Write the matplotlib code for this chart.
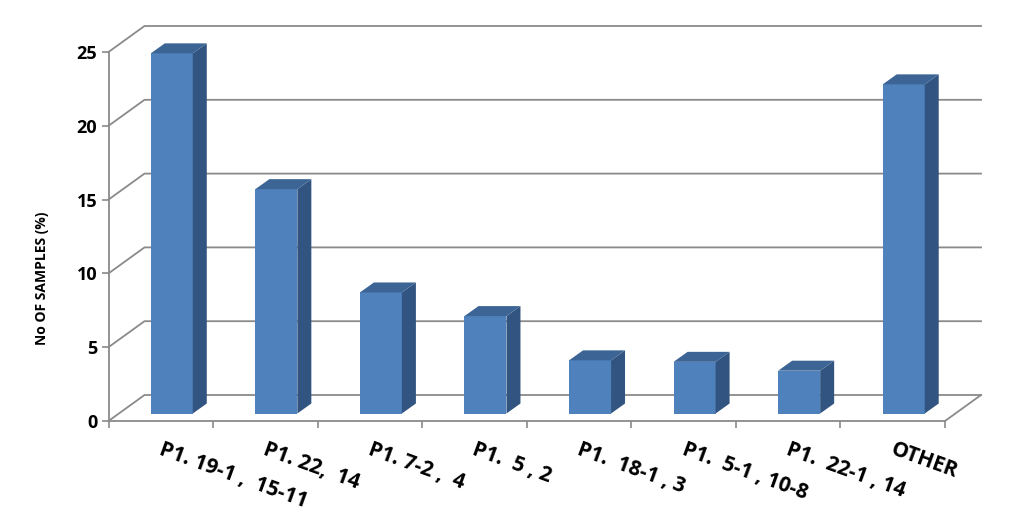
import numpy as np
import matplotlib
matplotlib.use('Agg')
import matplotlib.pyplot as plt
from matplotlib.ticker import FixedLocator, NullFormatter

categories = ['P1. 19-1 ,  15-11', 'P1. 22,  14', 'P1. 7-2 ,  4', 'P1.  5 , 2',
              'P1.  18-1 , 3', 'P1.  5-1 , 10-8', 'P1.  22-1 , 14', 'OTHER']
samples = [24.4, 15.2, 8.2, 6.6, 3.6, 3.5, 2.9, 22.3]
y_ticks = [0, 5, 10, 15, 20, 25]

plt.rcParams['font.family'] = ['Open Sans', 'DejaVu Sans']

W, H = 1024, 529
fig = plt.figure(figsize=(W / 100, H / 100), dpi=100)
ax = fig.add_axes([108.5 / W, 1 - 421 / H, (945 - 108.5) / W, (421 - 52) / H])
ax.set_xlim(0, len(categories))
ax.set_ylim(0, 25)

# pixels per data unit, used to fake the 3D depth
px_x = (945 - 108.5) / len(categories)
px_y = (421 - 52) / 25
wall_dx, wall_dy = 36 / px_x, 26 / px_y
gap_dx, gap_dy = 11 / px_x, 7.5 / px_y
bar_dx, bar_dy = 14 / px_x, 10 / px_y
bar_w = 42 / px_x

GRID = '#8a8a8a'
FRONT = '#4f81bd'
TOP = '#3c6595'
SIDE = '#325480'

# walls and gridlines
n = len(categories)
for t in y_ticks:
    ax.plot([0, wall_dx, n + wall_dx], [t, t + wall_dy, t + wall_dy], color=GRID, lw=1.3,
            clip_on=False, zorder=1, solid_joinstyle='miter')
ax.plot([n, n + wall_dx], [0, wall_dy], color=GRID, lw=1.3, clip_on=False, zorder=1)

# bars
centers = np.arange(n) + 0.5
x0 = centers + gap_dx - bar_w / 2
x1 = x0 + bar_w
for i, v in enumerate(samples):
    top = v + gap_dy
    ax.bar(x0[i], v, width=bar_w, bottom=gap_dy, align='edge', color=FRONT, zorder=3,
           clip_on=False)
    ax.fill([x1[i], x1[i] + bar_dx, x1[i] + bar_dx, x1[i]],
            [gap_dy, gap_dy + bar_dy, top + bar_dy, top], color=SIDE, lw=0, zorder=3, clip_on=False)
    ax.fill([x0[i], x1[i], x1[i] + bar_dx, x0[i] + bar_dx],
            [top, top, top + bar_dy, top + bar_dy], color=TOP, lw=0, zorder=3, clip_on=False)

for s in ['top', 'right']:
    ax.spines[s].set_visible(False)
for s in ['left', 'bottom']:
    ax.spines[s].set_color(GRID)
    ax.spines[s].set_linewidth(1.3)

ax.set_yticks(y_ticks)
ax.tick_params(axis='y', length=5, width=1.2, color=GRID, pad=3, labelsize=13)
for lab in ax.get_yticklabels():
    lab.set_fontweight('bold')

ax.xaxis.set_major_locator(FixedLocator(np.arange(n + 1)))
ax.xaxis.set_major_formatter(NullFormatter())
ax.tick_params(axis='x', which='major', length=5, width=1.2, color=GRID)
ax.set_xticks(centers - 3 / px_x, minor=True)
ax.set_xticklabels(categories, minor=True, rotation=-20, ha='left', va='baseline',
                   rotation_mode='anchor', fontsize=15, fontweight='bold')
ax.tick_params(axis='x', which='minor', length=0, pad=24)

ax.set_ylabel('No OF SAMPLES (%)', fontsize=10, fontweight='bold')
ax.yaxis.set_label_coords((49 - 108.5) / (945 - 108.5), (421 - 278) / (421 - 52))

fig.savefig('out.png', dpi=100)
